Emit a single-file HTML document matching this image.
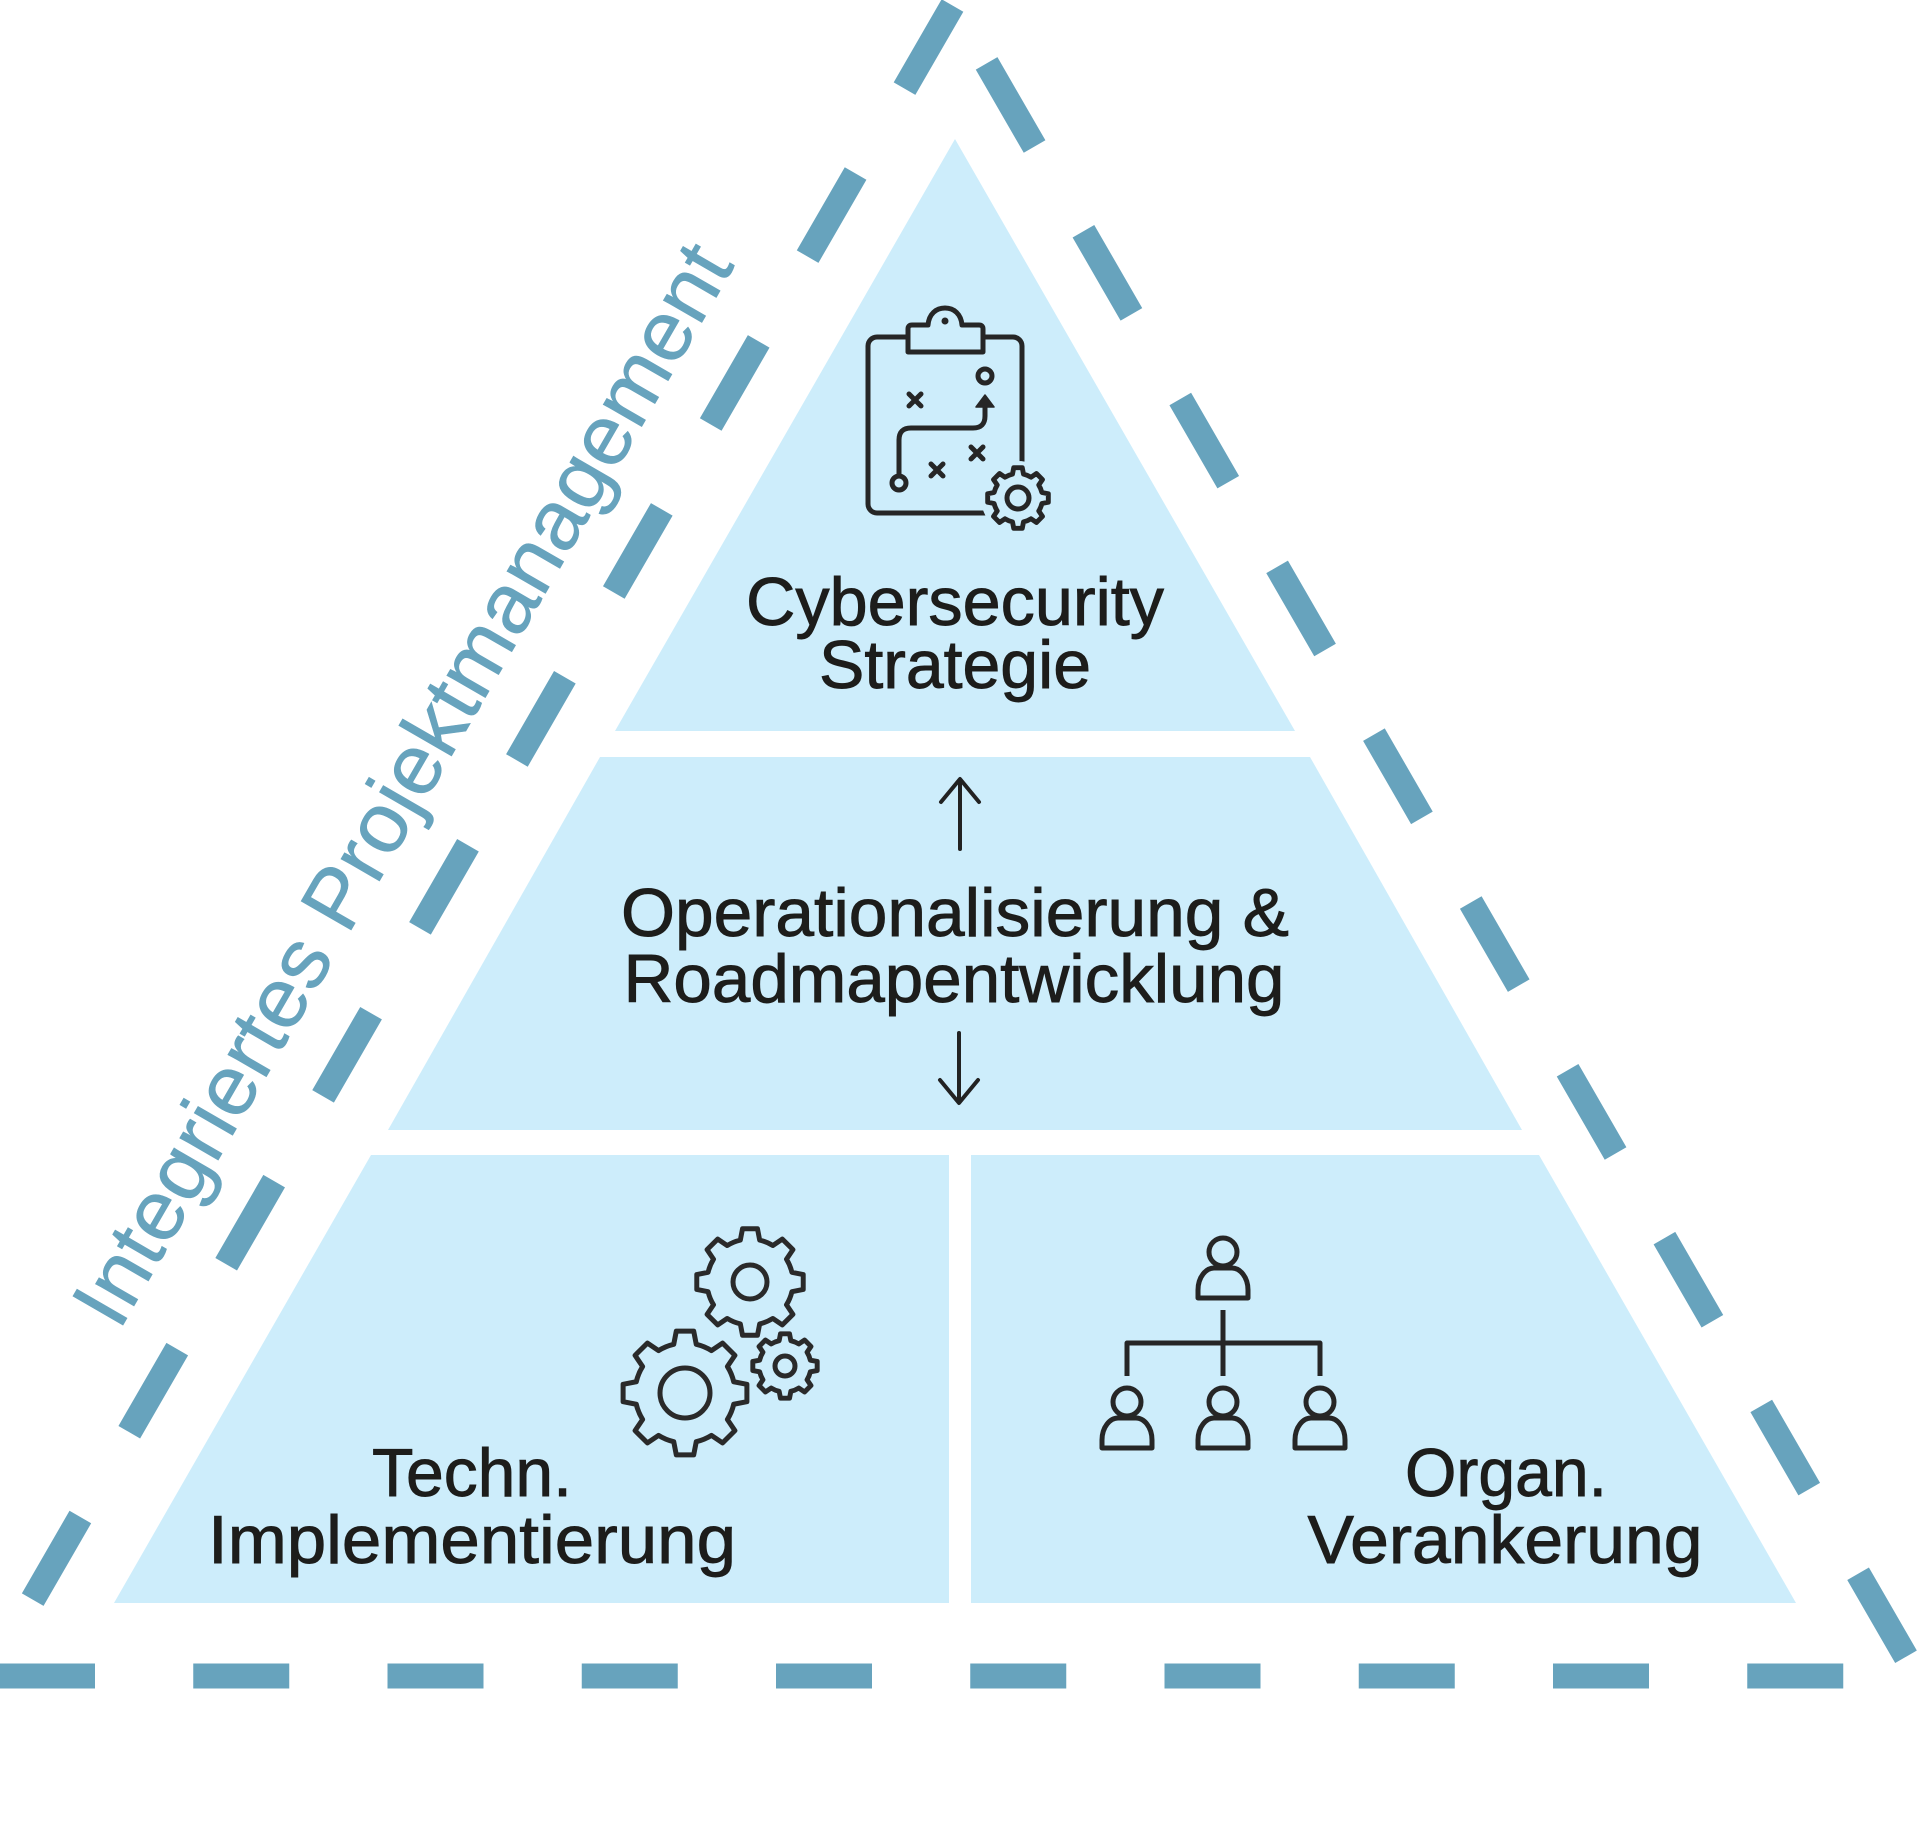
<!DOCTYPE html>
<html>
<head>
<meta charset="utf-8">
<style>
html,body{margin:0;padding:0;background:#ffffff;}
svg{display:block;}
</style>
</head>
<body>
<svg width="1920" height="1833" viewBox="0 0 1920 1833" xmlns="http://www.w3.org/2000/svg">
  <defs>
    <path id="gear" d="M 0.9744 -0.2250 L 1.2379 -0.1740 L 1.2379 0.1740 L 0.9744 0.2250 A 1 1 0 0 1 0.8480 0.5299 L 0.9983 0.7523 L 0.7523 0.9983 L 0.5299 0.8480 A 1 1 0 0 1 0.2250 0.9744 L 0.1740 1.2379 L -0.1740 1.2379 L -0.2250 0.9744 A 1 1 0 0 1 -0.5299 0.8480 L -0.7523 0.9983 L -0.9983 0.7523 L -0.8480 0.5299 A 1 1 0 0 1 -0.9744 0.2250 L -1.2379 0.1740 L -1.2379 -0.1740 L -0.9744 -0.2250 A 1 1 0 0 1 -0.8480 -0.5299 L -0.9983 -0.7523 L -0.7523 -0.9983 L -0.5299 -0.8480 A 1 1 0 0 1 -0.2250 -0.9744 L -0.1740 -1.2379 L 0.1740 -1.2379 L 0.2250 -0.9744 A 1 1 0 0 1 0.5299 -0.8480 L 0.7523 -0.9983 L 0.9983 -0.7523 L 0.8480 -0.5299 A 1 1 0 0 1 0.9744 -0.2250 Z"/>
  </defs>

  <rect x="0" y="0" width="1920" height="1833" fill="#ffffff"/>

  <!-- dashed outer triangle -->
  <g stroke="#67a3bd" stroke-width="25" fill="none" stroke-linecap="butt">
    <line x1="952.5" y1="5.5" x2="32.7" y2="1599.6" stroke-dasharray="96 97.9"/>
    <line x1="986.6" y1="63.4" x2="1906" y2="1656.8" stroke-dasharray="96 97.75"/>
    <line x1="-1" y1="1676" x2="1843.5" y2="1676" stroke-dasharray="96 98.25"/>
  </g>

  <!-- inner pyramid pieces -->
  <g fill="#cdedfb">
    <polygon points="955,139 1295,731 615,731"/>
    <polygon points="600,757 1310,757 1522,1130 388,1130"/>
    <polygon points="371,1155 949,1155 949,1603 114,1603"/>
    <polygon points="971,1155 1539,1155 1796,1603 971,1603"/>
  </g>

  <!-- rotated side label -->
  <text transform="translate(119,1332) rotate(-60)" x="0" y="0" font-family="Liberation Sans, sans-serif" font-size="84" fill="#67a3bd" stroke="#67a3bd" stroke-width="0.6" textLength="1232" lengthAdjust="spacingAndGlyphs">Integriertes Projektmanagement</text>

  <!-- main labels -->
  <g font-family="Liberation Sans, sans-serif" font-size="68" fill="#1d1d1b" stroke="#1d1d1b" stroke-width="0.9" text-anchor="middle">
    <text x="955" y="625" textLength="418" lengthAdjust="spacingAndGlyphs">Cybersecurity</text>
    <text x="955" y="688" textLength="272" lengthAdjust="spacingAndGlyphs">Strategie</text>
    <text x="955" y="936" textLength="668" lengthAdjust="spacingAndGlyphs">Operationalisierung &amp;</text>
    <text x="954" y="1002" textLength="661" lengthAdjust="spacingAndGlyphs">Roadmapentwicklung</text>
    <text x="472" y="1496" textLength="200" lengthAdjust="spacingAndGlyphs">Techn.</text>
    <text x="472" y="1563" textLength="528" lengthAdjust="spacingAndGlyphs">Implementierung</text>
    <text x="1506" y="1496" textLength="202" lengthAdjust="spacingAndGlyphs">Organ.</text>
    <text x="1505" y="1563" textLength="395" lengthAdjust="spacingAndGlyphs">Verankerung</text>
  </g>

  <!-- arrows -->
  <g stroke="#222222" stroke-width="4" fill="none" stroke-linecap="round" stroke-linejoin="round">
    <line x1="960" y1="849" x2="960" y2="781"/>
    <polyline points="941,802 960,779 979,802"/>
    <line x1="959" y1="1033" x2="959" y2="1101"/>
    <polyline points="940,1080 959,1103 978,1080"/>
  </g>

  <!-- clipboard icon -->
  <g stroke="#262626" stroke-width="5" fill="none" stroke-linecap="round" stroke-linejoin="round">
    <rect x="868" y="337" width="154" height="176" rx="9"/>
    <path d="M908,352 L908,329 Q908,325 912,325 L928,325 C929,314 936,308 945,308 C954,308 961,314 962,325 L979,325 Q983,325 983,329 L983,352 Z" fill="#cdedfb"/>
    <circle cx="945" cy="321" r="3.5" fill="#262626" stroke="none"/>
    <circle cx="985" cy="376" r="7"/>
    <circle cx="899" cy="483" r="7"/>
    <path d="M899,476 L899,440 Q899,428 911,428 L973,428 Q985,428 985,416 L985,405"/>
    <polygon points="985,395 976,407 994,407" fill="#262626" stroke-width="1.5"/>
    <path d="M909,394 L921,406 M921,394 L909,406"/>
    <path d="M971,447 L983,459 M983,447 L971,459"/>
    <path d="M931,464 L943,476 M943,464 L931,476"/>
  </g>
  <circle cx="1018" cy="498" r="37" fill="#cdedfb"/>
  <g fill="none" stroke="#262626" stroke-linejoin="round">
    <use href="#gear" transform="translate(1018,498) scale(24.5)" stroke-width="0.2"/>
    <circle cx="1018" cy="498" r="11" stroke-width="5"/>
  </g>

  <!-- gears icon -->
  <g fill="none" stroke="#2a2a2a" stroke-linejoin="round">
    <use href="#gear" transform="translate(750,1282) scale(43)" stroke-width="0.115"/>
    <circle cx="750" cy="1282" r="17" stroke-width="5"/>
    <use href="#gear" transform="translate(685,1393) scale(50)" stroke-width="0.1"/>
    <circle cx="685" cy="1393" r="25" stroke-width="5"/>
    <use href="#gear" transform="translate(785,1366) scale(26)" stroke-width="0.19"/>
    <circle cx="785" cy="1366" r="10" stroke-width="5"/>
  </g>

  <!-- org chart icon -->
  <g fill="none" stroke="#262626" stroke-width="5" stroke-linecap="butt" stroke-linejoin="round">
    <circle cx="1223" cy="1252" r="14"/>
    <path d="M1198,1298 L1198,1290 C1198,1277 1206,1268 1214,1268 L1232,1268 C1240,1268 1248,1277 1248,1290 L1248,1298 Z"/>
    <line x1="1223" y1="1310" x2="1223" y2="1376"/>
    <polyline points="1127,1376 1127,1343 1320,1343 1320,1376"/>

    <circle cx="1127" cy="1402" r="14"/>
    <path d="M1102,1448 L1102,1440 C1102,1427 1110,1418 1118,1418 L1136,1418 C1144,1418 1152,1427 1152,1440 L1152,1448 Z"/>
    <circle cx="1223" cy="1402" r="14"/>
    <path d="M1198,1448 L1198,1440 C1198,1427 1206,1418 1214,1418 L1232,1418 C1240,1418 1248,1427 1248,1440 L1248,1448 Z"/>
    <circle cx="1320" cy="1402" r="14"/>
    <path d="M1295,1448 L1295,1440 C1295,1427 1303,1418 1311,1418 L1329,1418 C1337,1418 1345,1427 1345,1440 L1345,1448 Z"/>
  </g>
</svg>
</body>
</html>
